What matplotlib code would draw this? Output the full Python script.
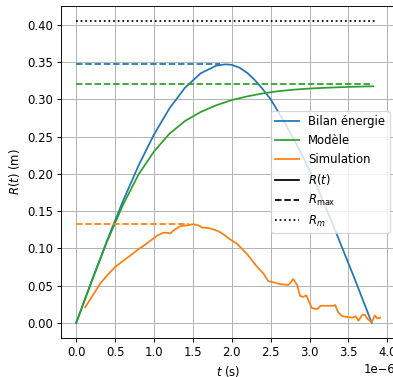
import numpy as np
import matplotlib
matplotlib.use("Agg")
import matplotlib.pyplot as plt
from matplotlib.lines import Line2D

DPI = 84
OUTPUT_FILE = "out.png"

# times read in microseconds, converted to seconds below
t_bilan = [0.0, 0.2, 0.4, 0.6, 0.8, 1.0, 1.2, 1.4, 1.6, 1.8, 1.92, 2.0, 2.1,
           2.2, 2.3, 2.4, 2.5, 2.6, 2.7, 2.8, 2.9, 3.0, 3.1, 3.2, 3.3, 3.4,
           3.5, 3.6, 3.7, 3.8]
r_bilan = [0.0, 0.0564, 0.1113, 0.1632, 0.2108, 0.2528, 0.2880, 0.3157, 0.3349,
           0.3452, 0.347, 0.3463, 0.3425, 0.3355, 0.3255, 0.3135, 0.300, 0.283,
           0.265, 0.246, 0.226, 0.205, 0.182, 0.157, 0.132, 0.106, 0.080,
           0.054, 0.027, 0.0]

t_modele = [0.0, 0.2, 0.4, 0.6, 0.8, 1.0, 1.2, 1.4, 1.6, 1.8, 2.0, 2.2, 2.4,
            2.6, 2.8, 3.0, 3.2, 3.4, 3.6, 3.82]
r_modele = [0.0, 0.0562, 0.1100, 0.1580, 0.1990, 0.2300, 0.2540, 0.2710, 0.2830,
            0.2920, 0.2990, 0.3040, 0.3080, 0.3110, 0.3130, 0.3145, 0.3155,
            0.3163, 0.3170, 0.3175]

t_simu = [0.116, 0.2, 0.31, 0.4, 0.50, 0.6, 0.69, 0.8, 0.86, 0.95, 1.04, 1.12,
          1.17, 1.21, 1.25, 1.34, 1.44, 1.50, 1.57, 1.62, 1.72, 1.83, 1.89,
          1.98, 2.07, 2.20, 2.32, 2.41, 2.47, 2.52, 2.62, 2.73, 2.77, 2.79,
          2.84, 2.88, 2.92, 2.96, 2.99, 3.03, 3.07, 3.11, 3.14, 3.20, 3.31,
          3.33, 3.37, 3.42, 3.48, 3.55, 3.59, 3.63, 3.68, 3.71, 3.75, 3.80,
          3.84, 3.87, 3.91]
r_simu = [0.021, 0.035, 0.053, 0.064, 0.075, 0.083, 0.090, 0.099, 0.103, 0.110,
          0.117, 0.121, 0.121, 0.120, 0.124, 0.130, 0.131, 0.1325, 0.131,
          0.128, 0.127, 0.123, 0.119, 0.112, 0.106, 0.092, 0.076, 0.066,
          0.056, 0.055, 0.052, 0.051, 0.056, 0.059, 0.051, 0.036, 0.035,
          0.037, 0.029, 0.020, 0.019, 0.019, 0.023, 0.023, 0.023, 0.024,
          0.014, 0.009, 0.008, 0.007, 0.009, 0.003, 0.011, 0.011, 0.005,
          0.001, 0.010, 0.006, 0.007]

rmax_bilan = 0.347
rmax_modele = 0.321
rmax_simu = 0.133
r_m = 0.405
rm_t_end = 3.87
rmax_bilan_t_end = 1.85
rmax_simu_t_end = 1.45

C_BLUE = "#1f77b4"
C_GREEN = "#2ca02c"
C_ORANGE = "#ff7f0e"

us = 1e-6

fig = plt.figure(figsize=(393 / DPI, 377 / DPI), dpi=DPI)
ax = fig.add_axes([61 / 393, 39 / 377, 334.5 / 393, 332 / 377])

ax.plot(np.array(t_bilan) * us, r_bilan, color=C_BLUE, lw=1.5)
ax.plot(np.array(t_modele) * us, r_modele, color=C_GREEN, lw=1.5)
ax.plot(np.array(t_simu) * us, r_simu, color=C_ORANGE, lw=1.5)

# R_max dashed lines
ax.plot([0, rmax_bilan_t_end * us], [rmax_bilan] * 2, color=C_BLUE, ls="--", lw=1.5)
ax.plot([0, t_modele[-1] * us], [rmax_modele] * 2, color=C_GREEN, ls="--", lw=1.5)
ax.plot([0, rmax_simu_t_end * us], [rmax_simu] * 2, color=C_ORANGE, ls="--", lw=1.5)

ax.plot([0, rm_t_end * us], [r_m] * 2, color="black", ls=":", lw=1.5)

ax.grid(True)
ax.set_xlabel("$t$ (s)")
ax.set_ylabel("$R(t)$ (m)")

handles = [
    Line2D([], [], color=C_BLUE, lw=1.5, label="Bilan énergie"),
    Line2D([], [], color=C_GREEN, lw=1.5, label="Modèle"),
    Line2D([], [], color=C_ORANGE, lw=1.5, label="Simulation"),
    Line2D([], [], color="black", lw=1.5, label="$R(t)$"),
    Line2D([], [], color="black", lw=1.5, ls="--", label=r"$R_{\mathrm{max}}$"),
    Line2D([], [], color="black", lw=1.5, ls=":", label="$R_m$"),
]
ax.legend(handles=handles, loc="center right")

fig.savefig(OUTPUT_FILE, dpi=DPI)
